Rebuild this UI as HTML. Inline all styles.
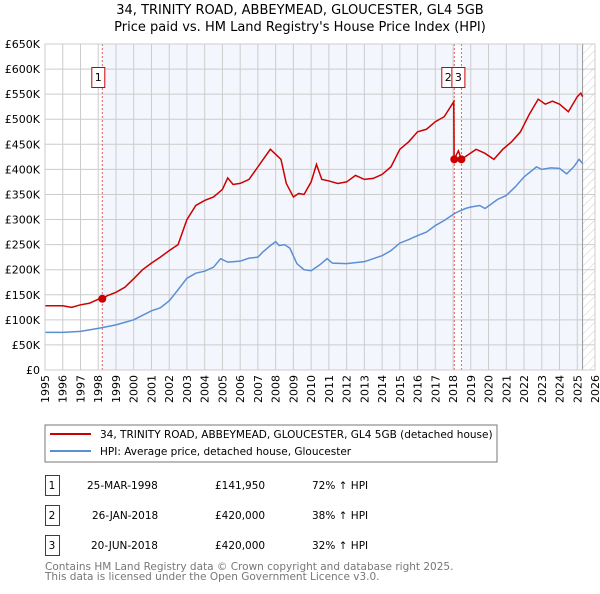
<!DOCTYPE html>
<html><head><meta charset="utf-8"><style>
body{margin:0;background:#fff;font-family:"DejaVu Sans","Liberation Sans",sans-serif;}
svg text{font-family:"DejaVu Sans","Liberation Sans",sans-serif;}
</style></head><body>
<svg id="c" width="600" height="590" viewBox="0 0 600 590" xmlns="http://www.w3.org/2000/svg">
<defs><pattern id="hatch" width="6" height="6" patternUnits="userSpaceOnUse" patternTransform="rotate(45)"><line x1="0" y1="0" x2="0" y2="6" stroke="#ccc" stroke-width="1"/></pattern></defs>
<text x="300" y="14" text-anchor="middle" font-size="13">34, TRINITY ROAD, ABBEYMEAD, GLOUCESTER, GL4 5GB</text>
<text x="300" y="31" text-anchor="middle" font-size="13">Price paid vs. HM Land Registry's House Price Index (HPI)</text>
<g id="plot"></g>
<g>
<rect x="45" y="425" width="452" height="37" fill="#fff" stroke="#777"/>
<line x1="50" y1="434" x2="91" y2="434" stroke="#cc0000" stroke-width="2"/>
<text x="100" y="438" font-size="10.5">34, TRINITY ROAD, ABBEYMEAD, GLOUCESTER, GL4 5GB (detached house)</text>
<line x1="50" y1="451" x2="91" y2="451" stroke="#5b8fd4" stroke-width="2"/>
<text x="100" y="455" font-size="10.5">HPI: Average price, detached house, Gloucester</text>
</g>
<g font-size="10.5">
<rect x="45.5" y="475.5" width="14" height="20" fill="#fff" stroke="#cc0000"/><text x="52" y="489" text-anchor="middle">1</text>
<text x="87" y="489">25-MAR-1998</text><text x="215" y="489">£141,950</text><text x="312" y="489">72% ↑ HPI</text>
<rect x="45.5" y="505.5" width="14" height="20" fill="#fff" stroke="#cc0000"/><text x="52" y="519" text-anchor="middle">2</text>
<text x="92" y="519">26-JAN-2018</text><text x="215" y="519">£420,000</text><text x="312" y="519">38% ↑ HPI</text>
<rect x="45.5" y="535.5" width="14" height="20" fill="#fff" stroke="#cc0000"/><text x="52" y="549" text-anchor="middle">3</text>
<text x="91" y="549">20-JUN-2018</text><text x="215" y="549">£420,000</text><text x="312" y="549">32% ↑ HPI</text>
</g>
<text x="45" y="570" font-size="10.5" fill="#777">Contains HM Land Registry data © Crown copyright and database right 2025.</text>
<text x="45" y="580" font-size="10.5" fill="#777">This data is licensed under the Open Government Licence v3.0.</text>
</svg>
<script>
const hpiYears=[1995,1996,1997,1998,1999,2000,2001,2001.5,2002,2002.5,2003,2003.5,2004,2004.5,2004.9,2005.3,2006,2006.5,2007,2007.3,2007.7,2008,2008.2,2008.5,2008.8,2009.2,2009.6,2010,2010.5,2010.9,2011.2,2012,2013,2014,2014.5,2015,2015.5,2016,2016.5,2017,2017.5,2018,2018.3,2018.7,2019,2019.5,2019.8,2020,2020.5,2021,2021.5,2022,2022.7,2023,2023.5,2024,2024.4,2024.8,2025.1,2025.3];
const hpiValues=[75,75,77,83,90,100,118,124,138,160,183,193,197,205,222,215,217,223,225,236,248,256,248,250,243,212,200,198,210,222,213,212,216,228,238,253,260,268,275,288,298,310,316,322,325,328,322,327,340,348,365,385,405,400,403,402,391,405,420,412];
const redYears=[1995,1995.5,1996,1996.5,1997,1997.5,1998,1998.23,1998.5,1999,1999.5,2000,2000.5,2001,2001.5,2002,2002.5,2003,2003.5,2004,2004.5,2005,2005.3,2005.6,2006,2006.5,2007,2007.3,2007.7,2008,2008.3,2008.6,2009,2009.3,2009.6,2010,2010.3,2010.6,2011,2011.5,2012,2012.5,2013,2013.5,2014,2014.5,2015,2015.5,2016,2016.5,2017,2017.5,2018.04,2018.06,2018.3,2018.47,2018.8,2019.3,2019.8,2020.3,2020.8,2021.3,2021.8,2022.3,2022.8,2023.2,2023.6,2024,2024.5,2025,2025.2,2025.3];
const redValues=[128,128,128,125,130,133,141,142,148,155,165,182,200,213,225,238,250,300,328,338,345,360,383,370,372,380,405,420,440,430,420,372,345,352,350,375,410,380,377,372,375,388,380,382,390,405,440,455,475,480,495,505,535,420,437,420,428,440,432,420,440,455,475,510,540,530,536,530,515,545,552,545];
const sales=[{t:1998.23,v:141950},{t:2018.07,v:420000},{t:2018.47,v:420000}];
const xTicks=[1995,1996,1997,1998,1999,2000,2001,2002,2003,2004,2005,2006,2007,2008,2009,2010,2011,2012,2013,2014,2015,2016,2017,2018,2019,2020,2021,2022,2023,2024,2025,2026];
const yTicks=[0,50,100,150,200,250,300,350,400,450,500,550,600,650];
const L=45,R=595,T=44,B=370;
const x=t=>L+(t-1995)/(2026-1995)*(R-L);
const y=v=>B-v/650*(B-T);
const g=document.getElementById('plot');
const NS='http://www.w3.org/2000/svg';
function mk(tag,attrs,parent){const e=document.createElementNS(NS,tag);for(const k in attrs)e.setAttribute(k,attrs[k]);(parent||g).appendChild(e);return e;}
const bg=mk('rect',{x:L,y:T,width:R-L,height:B-T,fill:'#fff'});


const s1=mk('rect',{x:x(1998.23),y:T,width:x(2018.07)-x(1998.23),height:B-T,fill:'#f3f6fd'});


const s2=mk('rect',{x:x(2018.47),y:T,width:x(2025.3)-x(2018.47),height:B-T,fill:'#f3f6fd'});


const h=mk('rect',{x:x(2025.3),y:T,width:R-x(2025.3),height:B-T,fill:'url(#hatch)'});


xTicks.forEach(t=>{
 const ln=mk('line',{x1:x(t),x2:x(t),y1:T,y2:B,stroke:'#ccc','stroke-width':1});
 
 
 const tx=mk('text',{x:x(t)+4,y:B+5,'text-anchor':'end','font-size':11,transform:'rotate(-90 '+(x(t)+4)+' '+(B+5)+')'});
 tx.textContent=t;
 
 
});
yTicks.forEach(v=>{
 const ln=mk('line',{x1:L,x2:R,y1:y(v),y2:y(v),stroke:'#ccc','stroke-width':1});
 
 
 const tx=mk('text',{x:L-5,y:y(v)+4,'text-anchor':'end','font-size':11});
 tx.textContent=v===0?'£0':'£'+v+'K';
 
 
});
const endL=mk('line',{x1:x(2025.3),x2:x(2025.3),y1:T,y2:B,stroke:'#999','stroke-width':1});


sales.forEach((s,i)=>{
 const ln=mk('line',{x1:x(s.t),x2:x(s.t),y1:T,y2:B,stroke:'#e06060','stroke-width':1,'stroke-dasharray':'2,2'});
 
 
});
const hp=mk('polyline',{points:hpiYears.map((t,i)=>x(t)+','+y(hpiValues[i])).join(' '),fill:'none',stroke:'#5b8fd4','stroke-width':1.5});


const rp=mk('polyline',{points:redYears.map((t,i)=>x(t)+','+y(redValues[i])).join(' '),fill:'none',stroke:'#cc0000','stroke-width':1.5});


sales.forEach((s,i)=>{
 const c=mk('circle',{cx:x(s.t),cy:y(s.v/1000),r:4,fill:'#cc0000'});
 
 
});
const labels=[{n:'1',cx:x(1998.23)-4},{n:'2',cx:x(2018.07)-6},{n:'3',cx:x(2018.47)-3}];
labels.forEach(l=>{
 const r=mk('rect',{x:l.cx-6.5,y:67.5,width:13,height:20,fill:'#fff',stroke:'#cc0000'});
 
 
 const t=mk('text',{x:l.cx,y:81,'text-anchor':'middle','font-size':11});
 t.textContent=l.n;
 
 
});
const fr=mk('rect',{x:L,y:T,width:R-L,height:B-T,fill:'none',stroke:'#ccc'});


</script>
</body></html>
